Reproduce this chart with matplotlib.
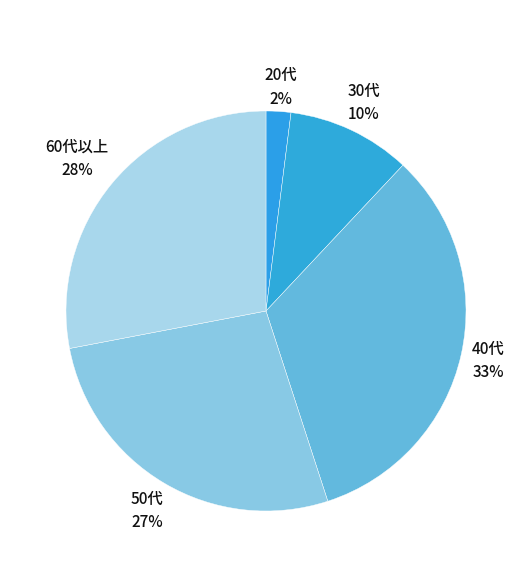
import matplotlib
matplotlib.use('Agg')
import matplotlib.pyplot as plt

plt.rcParams['font.family'] = ['Noto Sans CJK JP', 'DejaVu Sans']

ages = ['20代', '30代', '40代', '50代', '60代以上']
shares = [2, 10, 33, 27, 28]
colors = ['#2b9fe8', '#2eaadb', '#62b9de', '#88c9e5', '#a8d7ec']

fig = plt.figure(figsize=(5.32, 5.80), dpi=100)
ax = fig.add_axes([66/532, 69/580, 400/532, 400/580])

labels = ['%s\n%d%%' % (a, s) for a, s in zip(ages, shares)]
wedges, texts = ax.pie(shares, colors=colors, startangle=90, counterclock=False,
                       labels=labels, labeldistance=1.15,
                       wedgeprops=dict(edgecolor='white', linewidth=0.3),
                       textprops=dict(fontsize=11, color='#111111', fontweight='medium',
                                      ha='center', va='center', linespacing=1.5))
# small nudges to match the original label placement
x, y = texts[0].get_position()
texts[0].set_position((x, y - 0.03))
x, y = texts[2].get_position()
texts[2].set_position((x - 0.01, y))
x, y = texts[3].get_position()
texts[3].set_position((x - 0.01, y - 0.01))
x, y = texts[-1].get_position()
texts[-1].set_position((x - 0.06, y + 0.03))
ax.set_aspect('equal')
ax.set_xlim(-1, 1)
ax.set_ylim(-1, 1)

fig.savefig('out.png', dpi=100)
